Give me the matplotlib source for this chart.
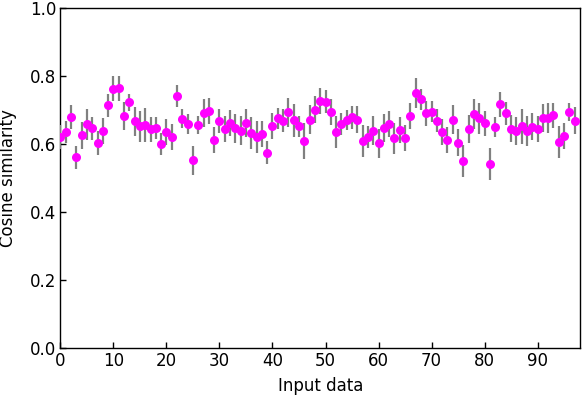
import matplotlib
matplotlib.use("Agg")
import matplotlib.pyplot as plt
import numpy as np

input_index = list(range(98))
similarity = [
    0.621, 0.636, 0.680, 0.561, 0.626, 0.658, 0.646, 0.603, 0.637, 0.714,
    0.763, 0.764, 0.682, 0.723, 0.667, 0.652, 0.656, 0.643, 0.647, 0.600,
    0.635, 0.621, 0.741, 0.674, 0.658, 0.552, 0.655, 0.690, 0.698, 0.612,
    0.667, 0.644, 0.661, 0.646, 0.639, 0.663, 0.631, 0.621, 0.629, 0.574,
    0.653, 0.676, 0.668, 0.693, 0.670, 0.652, 0.609, 0.671, 0.701, 0.727,
    0.725, 0.693, 0.635, 0.658, 0.671, 0.678, 0.671, 0.610, 0.620, 0.639,
    0.602, 0.647, 0.658, 0.617, 0.641, 0.618, 0.682, 0.749, 0.731, 0.690,
    0.695, 0.669, 0.635, 0.612, 0.672, 0.604, 0.551, 0.644, 0.687, 0.676,
    0.661, 0.541, 0.651, 0.717, 0.690, 0.645, 0.638, 0.652, 0.638, 0.651,
    0.644, 0.676, 0.677, 0.684, 0.605, 0.624, 0.694, 0.668,
]
errors = [
    0.035, 0.032, 0.036, 0.034, 0.040, 0.046, 0.033, 0.036, 0.038, 0.034,
    0.037, 0.037, 0.042, 0.025, 0.043, 0.046, 0.049, 0.036, 0.031, 0.031,
    0.038, 0.039, 0.033, 0.028, 0.029, 0.043, 0.026, 0.041, 0.038, 0.038,
    0.035, 0.039, 0.038, 0.043, 0.042, 0.041, 0.047, 0.046, 0.038, 0.034,
    0.039, 0.031, 0.034, 0.043, 0.049, 0.031, 0.054, 0.043, 0.039, 0.038,
    0.035, 0.038, 0.047, 0.032, 0.029, 0.034, 0.040, 0.047, 0.033, 0.042,
    0.042, 0.041, 0.038, 0.046, 0.037, 0.039, 0.038, 0.044, 0.032, 0.037,
    0.031, 0.033, 0.039, 0.039, 0.043, 0.039, 0.047, 0.042, 0.044, 0.046,
    0.036, 0.047, 0.029, 0.037, 0.034, 0.039, 0.042, 0.051, 0.044, 0.040,
    0.037, 0.041, 0.045, 0.037, 0.047, 0.039, 0.027, 0.040,
]
x_ticks = [0, 10, 20, 30, 40, 50, 60, 70, 80, 90]
y_ticks = [0.0, 0.2, 0.4, 0.6, 0.8, 1.0]

fig = plt.figure(figsize=(5.86, 3.96), dpi=100)
ax = fig.add_axes([60.4 / 586, 1 - 348 / 396, (580 - 60.4) / 586, 340 / 396])
ax.errorbar(input_index, similarity, yerr=errors, fmt="o", color="magenta",
            markersize=6.5, ecolor="gray", elinewidth=1.6, capsize=2.5,
            capthick=1.6, markeredgewidth=0, zorder=3)
ax.set_xlim(0, 98)
ax.set_ylim(0, 1)
ax.set_xticks(x_ticks)
ax.set_yticks(y_ticks)
ax.set_yticklabels([f"{v:.1f}" for v in y_ticks])
ax.tick_params(direction="in", length=4, width=1, labelsize=12, pad=3)
ax.set_xlabel("Input data", fontsize=12, labelpad=5)
ax.set_ylabel("Cosine similarity", fontsize=12, labelpad=9)
for s in ax.spines.values():
    s.set_linewidth(1.0)
fig.savefig("out.png", dpi=100)
